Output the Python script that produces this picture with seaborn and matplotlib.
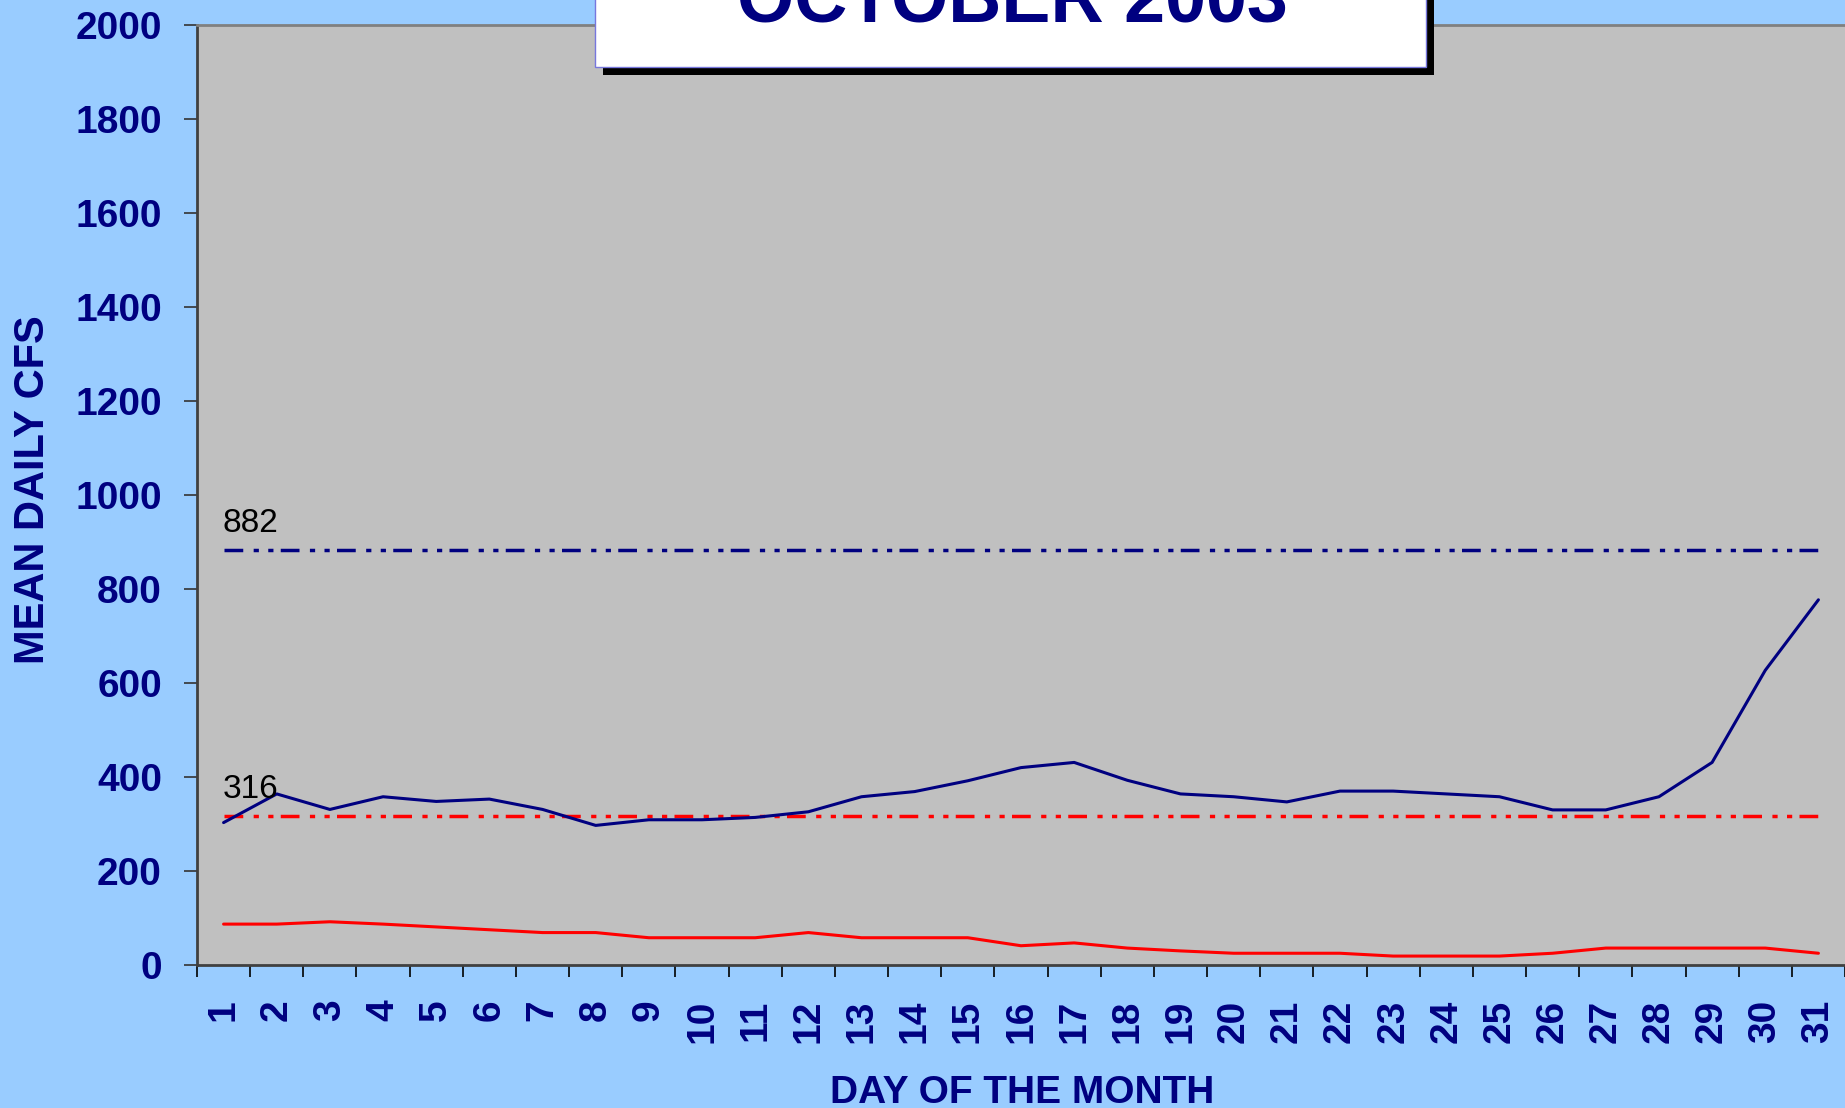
import numpy as np
import pandas as pd
import matplotlib
matplotlib.use("Agg")
import matplotlib.pyplot as plt
from matplotlib.patches import Rectangle
import seaborn as sns

# ---- data ----
days = list(range(1, 32))
flow_2003 = [303, 364, 331, 358, 348, 353, 331, 297, 309, 309, 314, 326, 358, 369, 392, 420,
             431, 393, 364, 358, 347, 370, 370, 364, 358, 330, 330, 358, 431, 627, 777]
flow_min = [87, 87, 92, 87, 81, 75, 69, 69, 58, 58, 58, 69, 58, 58, 58, 41,
            47, 36, 30, 25, 25, 25, 19, 19, 19, 25, 36, 36, 36, 36, 25]
mean_value = 882
median_value = 316
y_ticks = list(range(0, 2001, 200))
title_text = "OCTOBER 2003"
x_label = "DAY OF THE MONTH"
y_label = "MEAN DAILY CFS"

NAVY = "#000080"
RED = "#FF0000"
BG = "#99CCFF"
PLOT_BG = "#C0C0C0"

sns.set_theme(style="ticks")
plt.rcParams["font.family"] = ["Liberation Sans", "DejaVu Sans"]

df = pd.DataFrame({
    "day": days,
    "flow": flow_2003,
    "minflow": flow_min,
    "mean": [mean_value] * len(days),
    "median": [median_value] * len(days),
})

W, H = 1845, 1108
fig = plt.figure(figsize=(W / 100, H / 100), dpi=100, facecolor=BG)
ax = fig.add_axes([197 / W, 1 - 965 / H, 1 - 197 / W, (965 - 25) / H])
ax.set_facecolor(PLOT_BG)

dash_pat = (0, (5.4, 3.0, 1.5, 2.7, 1.5, 2.1))
sns.lineplot(data=df, x="day", y="mean", color=NAVY, linewidth=2.5, ax=ax)
ax.lines[-1].set_linestyle(dash_pat)
sns.lineplot(data=df, x="day", y="median", color=RED, linewidth=2.5, ax=ax)
ax.lines[-1].set_linestyle(dash_pat)
sns.lineplot(data=df, x="day", y="minflow", color=RED, linewidth=2.2, ax=ax)
sns.lineplot(data=df, x="day", y="flow", color=NAVY, linewidth=2.2, ax=ax)

for v in (mean_value, median_value):
    ax.annotate(str(v), xy=(days[0], v), xytext=(-1, 13), textcoords="offset points",
                ha="left", va="baseline", fontsize=24, color="black")

ax.set_xlim(0.5, len(days) + 0.5)
ax.set_ylim(0, 2000)
ax.set_yticks(y_ticks)
ax.set_yticklabels([str(t) for t in y_ticks], fontsize=28, fontweight="bold", color=NAVY)

ax.set_xticks(np.arange(0.5, len(days) + 1, 1.0))
ax.tick_params(axis="x", which="major", length=8.6, width=1.2, color="black", labelbottom=False)
ax.set_xticks(days, minor=True)
ax.set_xticklabels([str(d) for d in days], minor=True, fontsize=28, fontweight="bold",
                   color=NAVY, rotation=90)
ax.tick_params(axis="x", which="minor", length=0, pad=25)
ax.tick_params(axis="y", which="major", length=9.4, width=1.2, color="#333333", pad=15.8)

ax.set_xlabel("")
ax.set_ylabel("")

for s in ("left", "bottom"):
    ax.spines[s].set_color("#404040")
    ax.spines[s].set_linewidth(2)
ax.spines["top"].set_color("#808080")
ax.spines["top"].set_linewidth(2)
ax.spines["right"].set_visible(False)

fig.text(1022 / W, 1 - 1103 / H, x_label, ha="center", va="baseline", fontsize=28,
         fontweight="bold", color=NAVY)
fig.text(33 / W, 1 - 490 / H, y_label, ha="center", va="center", rotation=90,
         fontsize=30, fontweight="bold", color=NAVY)

# title box with shadow
shadow = Rectangle((603 / W, 1 - 75 / H), (1434 - 603) / W, 0.2, transform=fig.transFigure,
                   facecolor="black", edgecolor="none", zorder=3)
box = Rectangle((595 / W, 1 - 67 / H), (1426 - 595) / W, 0.2, transform=fig.transFigure,
                facecolor="white", edgecolor="#7777DD", linewidth=1, zorder=4)
fig.add_artist(shadow)
fig.add_artist(box)
fig.text(1012 / W, 1 - 22 / H, title_text, ha="center", va="baseline", fontsize=53,
         fontweight="bold", color=NAVY, zorder=6)

fig.savefig("out.png", dpi=100, facecolor=BG)
